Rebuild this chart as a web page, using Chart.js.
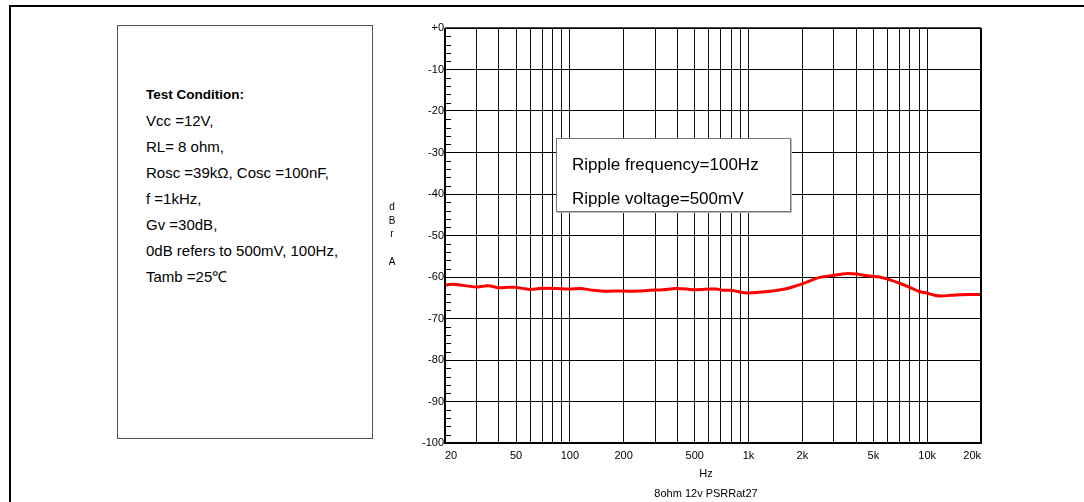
<!DOCTYPE html>
<html lang="en">
<head>
  <meta charset="UTF-8" />
  <title>PSRR vs Frequency</title>
  <script src="https://cdn.jsdelivr.net/npm/chart.js"></script>
  <style>
    body { margin: 0; background: #fff; font-family: "Liberation Sans", Arial, sans-serif; color: #000; }
    #page { position: relative; width: 1084px; height: 502px; overflow: hidden; }
    #frame { position: absolute; left: 9px; top: 5px; width: 1080px; height: 500px; border-top: 2px solid #000; border-left: 2px solid #000; }
    #title { position: absolute; left: 22px; top: -18px; font-weight: bold; font-size: 16px; white-space: nowrap; }
    #chartBox { position: absolute; left: 0; top: 0; width: 1084px; height: 502px; }
    #cond { position: absolute; left: 117px; top: 25px; width: 256px; height: 414px; border: 1px solid #555;
            box-sizing: border-box; padding: 55px 0 0 28px; font-size: 15px; line-height: 26px; background: #fff; white-space: nowrap; }
    #cond b { font-weight: bold; font-size: 13.5px; }
    #ylab { position: absolute; left: 386px; top: 200px; width: 12px; text-align: center; font-size: 10px; line-height: 13.7px; }
    #ripple { position: absolute; left: 556px; top: 138px; width: 235px; height: 74px; box-sizing: border-box;
              border: 1px solid #777; box-shadow: 1px 1px 0 #bbb; background: #fff; font-size: 17px; padding: 9px 0 0 15px; line-height: 34px; white-space: nowrap; }
    .xt { position: absolute; width: 200px; left: 606px; text-align: center; font-size: 11px; }
  </style>
</head>
<body>
  <div id="page">
    <div id="title">Figure 12. Power Supply Ripple Rejection vs Frequency</div>
    <div id="frame"></div>
    <div id="chartBox"><canvas id="psrr"></canvas></div>
    <div id="cond">
      <b>Test Condition:</b><br>
      Vcc =12V,<br>
      RL= 8 ohm,<br>
      Rosc =39kΩ, Cosc =100nF,<br>
      f =1kHz,<br>
      Gv =30dB,<br>
      0dB refers to 500mV, 100Hz,<br>
      Tamb =25℃
    </div>
    <div id="ylab">d<br>B<br>r<br><br>A</div>
    <div id="ripple">Ripple frequency=100Hz<br>Ripple voltage=500mV</div>
    <div class="xt" style="top:467px">Hz</div>
    <div class="xt" style="top:487px">8ohm 12v PSRRat27</div>
  </div>

  <script>
    // measured curve (Hz / dBrA)
    const freqs = [20, 21, 23, 25, 27, 30, 33, 35, 38, 40, 45, 50, 55, 60, 67, 75, 85, 100, 115, 130,
                   150, 175, 200, 240, 280, 330, 390, 450, 500, 550, 600, 660, 720, 790, 870, 950, 1050,
                   1200, 1400, 1600, 1800, 2100, 2500, 3000, 3500, 4000, 4600, 5400, 6200, 7000, 8000,
                   9000, 10000, 11000, 12000, 13500, 15000, 17000, 20000];
    const dbr = [-62.0, -61.8, -61.8, -62.0, -62.2, -62.4, -62.2, -62.1, -62.4, -62.6, -62.5, -62.5, -62.8, -63.0,
                 -62.8, -62.7, -62.8, -62.9, -62.8, -63.1, -63.4, -63.4, -63.4, -63.4, -63.2, -63.1, -62.8,
                 -62.9, -63.1, -63.0, -62.9, -62.9, -63.2, -63.2, -63.5, -63.8, -63.8, -63.6, -63.3, -62.9,
                 -62.3, -61.3, -60.1, -59.6, -59.2, -59.3, -59.7, -60.0, -60.7, -61.5, -62.5, -63.5, -63.9,
                 -64.4, -64.6, -64.4, -64.3, -64.2, -64.2];

    // axis ticks
    const gridFreqs = [20, 30, 40, 50, 60, 70, 80, 90, 100, 200, 300, 400, 500, 600, 700, 800, 900,
                       1000, 2000, 3000, 4000, 5000, 6000, 7000, 8000, 9000, 10000, 20000];
    const freqLabels = { 20: '20', 50: '50', 100: '100', 200: '200', 500: '500', 1000: '1k',
                         2000: '2k', 5000: '5k', 10000: '10k', 20000: '20k' };
    const dbMin = -100, dbMax = 0, dbMinorStep = 2, dbMajorStep = 10;

    const frameAndMinorTicks = {
      id: 'frameAndMinorTicks',
      beforeDatasetsDraw(chart) {
        const { ctx, chartArea: a, scales } = chart;
        const y = scales.y;
        ctx.save();
        ctx.strokeStyle = '#000';
        ctx.lineWidth = 1;
        for (let v = dbMin; v <= dbMax; v += dbMinorStep) {
          if (v % dbMajorStep === 0) continue;
          const py = Math.round(y.getPixelForValue(v)) + 0.5;
          ctx.beginPath();
          ctx.moveTo(a.left, py);
          ctx.lineTo(a.left + 6, py);
          ctx.stroke();
        }
        ctx.restore();
      },
      afterDraw(chart) {
        const { ctx, chartArea: a } = chart;
        ctx.save();
        ctx.strokeStyle = '#000';
        ctx.lineWidth = 2;
        ctx.beginPath();
        ctx.moveTo(a.left, a.top);
        ctx.lineTo(a.left, a.bottom);
        ctx.lineTo(a.right, a.bottom);
        ctx.lineTo(a.right, a.top);
        ctx.stroke();
        ctx.lineWidth = 1.5;
        ctx.beginPath();
        ctx.moveTo(a.left, a.top);
        ctx.lineTo(a.right, a.top);
        ctx.stroke();
        ctx.restore();
      }
    };

    new Chart(document.getElementById('psrr'), {
      type: 'line',
      data: {
        datasets: [{
          data: freqs.map((f, i) => ({ x: f, y: dbr[i] })),
          borderColor: '#ff0000',
          borderWidth: 3,
          pointRadius: 0,
          tension: 0.3,
          fill: false
        }]
      },
      options: {
        responsive: true,
        maintainAspectRatio: false,
        animation: false,
        layout: { padding: { left: 405, right: 103, top: 28, bottom: 0 } },
        plugins: { legend: { display: false }, tooltip: { enabled: false } },
        scales: {
          x: {
            type: 'logarithmic',
            min: 20,
            max: 20000,
            afterBuildTicks: s => { s.ticks = gridFreqs.map(v => ({ value: v })); },
            afterFit: s => { s.height = 59; },
            grid: { color: '#111', lineWidth: 1, drawTicks: false },
            border: { display: false },
            ticks: {
              autoSkip: false,
              maxRotation: 0,
              align: 'inner',
              padding: 6,
              color: '#000',
              font: { family: 'Liberation Sans, Arial', size: 11 },
              callback: v => freqLabels[v] || ''
            }
          },
          y: {
            min: dbMin,
            max: dbMax,
            afterFit: s => { s.width = 40; },
            grid: {
              color: c => (c.tick.value % dbMajorStep === 0 ? '#000' : 'rgba(0,0,0,0)'),
              lineWidth: 1,
              drawTicks: false
            },
            border: { display: false },
            ticks: {
              stepSize: dbMinorStep,
              autoSkip: false,
              padding: 1,
              color: '#000',
              font: { family: 'Liberation Sans, Arial', size: 11 },
              callback: v => (v % dbMajorStep === 0 ? (v === 0 ? '+0' : String(v)) : '')
            }
          }
        }
      },
      plugins: [frameAndMinorTicks]
    });
  </script>
</body>
</html>
